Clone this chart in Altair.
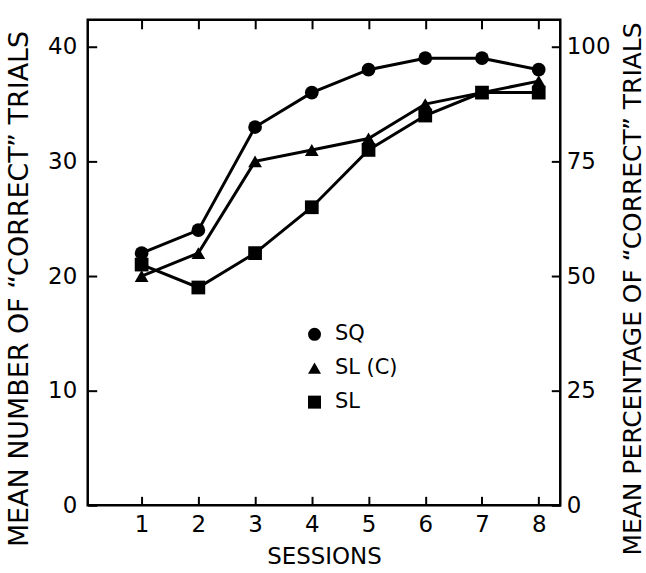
import altair as alt
import pandas as pd

sessions = [1, 2, 3, 4, 5, 6, 7, 8]
sq = [22, 24, 33, 36, 38, 39, 39, 38]
slc = [20, 22, 30, 31, 32, 35, 36, 37]
sl = [21, 19, 22, 26, 31, 34, 36, 36]
series_names = ["SQ", "SL (C)", "SL"]
shapes = ["circle", "triangle-up", "square"]

rows = []
for name, vals in zip(series_names, [sq, slc, sl]):
    for s, v in zip(sessions, vals):
        rows.append({"session": s, "value": v, "series": name})
df = pd.DataFrame(rows)

FONT = "DejaVu Sans"
XDOM = [0.05, 8.38]
YDOM = [0, 42.35]
PDOM = [0, 105.875]
TK = 9
W, H = 474, 487

xs = alt.Scale(domain=XDOM, nice=False, zero=False)
ys = alt.Scale(domain=YDOM, nice=False)

xbase = alt.X("session:Q", scale=xs,
              axis=alt.Axis(values=sessions, title="SESSIONS", orient="bottom", offset=-TK,
                            tickSize=TK, tickWidth=2, domain=False, grid=False,
                            labelFontSize=23, labelPadding=8, titleFontSize=23,
                            titlePadding=9, titleFontWeight="normal", labelFont=FONT, titleFont=FONT,
                            labelColor="black", titleColor="black", tickColor="black"))
ybase = alt.Y("value:Q", scale=ys,
              axis=alt.Axis(values=[0, 10, 20, 30, 40], title="MEAN NUMBER OF \u201cCORRECT\u201d TRIALS",
                            orient="left", offset=-TK, tickSize=TK, tickWidth=2, domain=False, grid=False,
                            labelFontSize=23, labelPadding=11, titleFontSize=27, titlePadding=14,
                            titleY=H / 2 + 26,
                            titleFontWeight="normal", labelFont=FONT, titleFont=FONT,
                            labelColor="black", titleColor="black", tickColor="black"))

base = alt.Chart(df)
lines = base.mark_line(color="black", strokeWidth=3).encode(
    x=xbase, y=ybase, detail="series:N")
points = base.mark_point(filled=True, color="black", opacity=1, size=190).encode(
    x=alt.X("session:Q", scale=xs, axis=None),
    y=alt.Y("value:Q", scale=ys, axis=None),
    shape=alt.Shape("series:N", scale=alt.Scale(domain=series_names, range=shapes),
                    legend=alt.Legend(title=None, orient="none", legendX=217, legendY=305,
                                      symbolSize=170, symbolFillColor="black", symbolStrokeColor="black",
                                      labelFontSize=21, labelFont=FONT, labelColor="black",
                                      rowPadding=12, labelOffset=10)))
top_axis = base.mark_point(opacity=0).encode(
    x=alt.X("session:Q", scale=xs,
            axis=alt.Axis(values=sessions, orient="top", offset=-TK, tickSize=TK, tickWidth=2,
                          labels=False, domain=False, grid=False, title=None, tickColor="black")),
    y=alt.Y("value:Q", scale=ys, axis=None))
right_axis = base.mark_point(opacity=0).encode(
    x=alt.X("session:Q", scale=xs, axis=None),
    y=alt.Y("pct:Q", scale=alt.Scale(domain=PDOM, nice=False),
            axis=alt.Axis(values=[0, 25, 50, 75, 100], orient="right", offset=-TK, tickSize=TK,
                          tickWidth=2, domain=False, grid=False,
                          title="MEAN PERCENTAGE OF \u201cCORRECT\u201d TRIALS", titleAngle=270,
                          titleY=H / 2 + 26,
                          labelFontSize=23, labelPadding=6, titleFontSize=25, titlePadding=36,
                          titleFontWeight="normal", labelFont=FONT, titleFont=FONT,
                          labelColor="black", titleColor="black", tickColor="black"))
).transform_calculate(pct="datum.value * 2.5")

chart = alt.layer(lines, points, top_axis, right_axis).resolve_scale(
    x="independent", y="independent"
).resolve_axis(x="independent", y="independent").properties(
    width=W, height=H, padding={"left": 5, "top": 18, "right": 0, "bottom": 0}
).configure(background="white").configure_view(stroke="black", strokeWidth=2.5)

chart.save("out.html", embed_options={"renderer": "svg", "actions": False})
